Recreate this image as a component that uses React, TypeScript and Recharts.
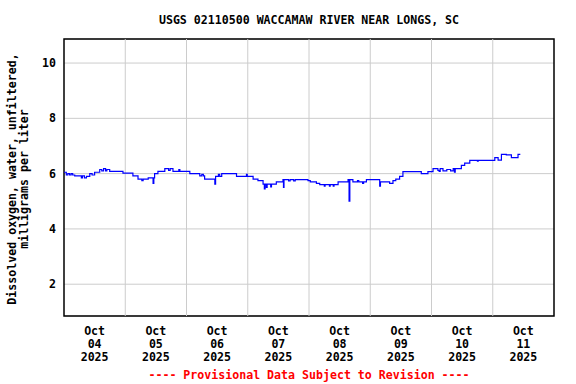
import React from 'react';
import {
  CartesianGrid,
  Line,
  LineChart,
  ReferenceArea,
  ReferenceLine,
  XAxis,
  YAxis,
} from 'recharts';

/* ─────────────── data ─────────────── */

// hours since Oct 04 2025 00:00
const hours = [
  0, 0.9, 1.5, 2.2, 2.8, 3.4, 4.2, 6.8, 7.2, 8.0, 8.8, 10.1, 11.0, 12.0, 14.0, 14.8,
  15.5, 16.3, 16.8, 17.9, 23.1, 27.0, 29.0, 30.5, 31.0, 33.0, 34.9, 35.2, 35.5, 36.8,
  39.5, 41.0, 41.6, 42.7, 45.0, 45.4, 49.3, 53.2, 54.0, 54.6, 55.1, 59.1, 59.4, 60.5,
  61.0, 61.8, 67.6, 71.5, 71.8, 74.1, 76.0, 78.0, 78.5, 78.8, 79.3, 79.6, 81.0, 81.3,
  83.2, 85.8, 86.0, 86.2, 88.0, 88.6, 90.0, 90.6, 95.6, 96.5, 98.9, 100.2, 102.0, 102.3,
  104.0, 104.3, 105.5, 105.8, 107.4, 111.3, 111.7, 112.0, 113.2, 115.0, 115.5, 117.0,
  117.4, 118.5, 123.7, 124.0, 127.6, 128.9, 130.0, 131.5, 132.8, 140.0, 142.6, 144.6,
  146.5, 147.0, 147.4, 148.5, 150.0, 151.5, 152.5, 153.0, 153.3, 155.7, 157.0, 159.0,
  162.0, 162.3, 168.8, 170.1, 171.4, 173.3, 175.3, 177.9, 178.8,
];

// dissolved oxygen, mg/L
const doValues = [
  6.05, 5.95, 6.0, 5.95, 6.0, 5.95, 5.92, 5.85, 5.92, 5.85, 5.9, 6.0, 5.95, 6.05, 6.15, 6.1,
  6.18, 6.1, 6.15, 6.08, 6.02, 5.92, 5.8, 5.75, 5.8, 5.85, 5.65, 5.85, 6.0, 6.08,
  6.18, 6.12, 6.18, 6.08, 6.15, 6.08, 6.0, 5.92, 5.97, 5.92, 5.8, 5.62, 5.9, 5.97,
  5.9, 6.0, 5.9, 5.97, 5.9, 5.8, 5.75, 5.62, 5.45, 5.62, 5.5, 5.62, 5.52, 5.62,
  5.7, 5.78, 5.5, 5.78, 5.74, 5.78, 5.74, 5.78, 5.75, 5.7, 5.65, 5.6, 5.55, 5.6,
  5.55, 5.6, 5.55, 5.6, 5.7, 5.78, 5.0, 5.78, 5.7, 5.75, 5.7, 5.65,
  5.7, 5.78, 5.55, 5.7, 5.65, 5.75, 5.8, 5.9, 6.07, 6.0, 6.07, 6.18,
  6.12, 6.08, 6.18, 6.1, 6.15, 6.1, 6.18, 6.05, 6.18, 6.3, 6.38, 6.48,
  6.45, 6.48, 6.58, 6.49, 6.7, 6.68, 6.58, 6.7, 6.7,
];

const dayBoundaries = [24, 48, 72, 96, 120, 144, 168];
const labelTicks = [12, 36, 60, 84, 108, 132, 156, 180];
const tickMonths = ['Oct', 'Oct', 'Oct', 'Oct', 'Oct', 'Oct', 'Oct', 'Oct'];
const tickDays = ['04', '05', '06', '07', '08', '09', '10', '11'];
const tickYears = ['2025', '2025', '2025', '2025', '2025', '2025', '2025', '2025'];
const yTicks = [2, 4, 6, 8, 10];

const X_DOMAIN: [number, number] = [0, 192];
const Y_DOMAIN: [number, number] = [0.85, 10.87];

const chartData = hours.map((h, i) => ({ h, value: doValues[i] }));

const FONT = '"DejaVu Sans Mono", monospace';
const FS = 11.6;

function DateTick({ x, y, payload }: any) {
  const i = labelTicks.indexOf(payload.value);
  return (
    <text
      x={x}
      y={y}
      textAnchor="middle"
      fontFamily={FONT}
      fontSize={FS}
      fontWeight="bold"
      fill="#000"
    >
      <tspan x={x} y={y + 11}>{tickMonths[i]}</tspan>
      <tspan x={x} y={y + 24}>{tickDays[i]}</tspan>
      <tspan x={x} y={y + 37}>{tickYears[i]}</tspan>
    </text>
  );
}

function ValueTick({ y, payload }: any) {
  return (
    <text
      x={56}
      y={y + 4}
      textAnchor="end"
      fontFamily={FONT}
      fontSize={FS}
      fontWeight="bold"
      fill="#000"
    >
      {payload.value}
    </text>
  );
}

export default function App() {
  return (
    <div style={{ position: 'absolute', left: 0, top: 0, width: 576, height: 384, background: '#fff' }}>
      <LineChart
        width={576}
        height={384}
        data={chartData}
        margin={{ top: 39, right: 22, bottom: 0, left: 0 }}
      >
        <CartesianGrid vertical={false} stroke="#cccccc" />
        {dayBoundaries.map((d) => (
          <ReferenceLine key={d} x={d} stroke="#cccccc" />
        ))}
        <XAxis
          type="number"
          dataKey="h"
          domain={X_DOMAIN}
          ticks={labelTicks}
          tick={<DateTick />}
          tickLine={false}
          axisLine={false}
          height={68}
          allowDataOverflow
        />
        <YAxis
          type="number"
          domain={Y_DOMAIN}
          ticks={yTicks}
          tick={<ValueTick />}
          tickLine={false}
          axisLine={false}
          width={64}
          allowDataOverflow
        />
        <Line
          type="stepAfter"
          dataKey="value"
          stroke="#0000ff"
          strokeWidth={1.2}
          dot={false}
          activeDot={false}
          isAnimationActive={false}
        />
        <ReferenceArea
          x1={X_DOMAIN[0]}
          x2={X_DOMAIN[1]}
          y1={Y_DOMAIN[0]}
          y2={Y_DOMAIN[1]}
          fill="none"
          stroke="#000"
          strokeWidth={1.5}
          ifOverflow="visible"
        />
      </LineChart>

      <svg
        width={576}
        height={384}
        style={{ position: 'absolute', left: 0, top: 0, pointerEvents: 'none' }}
      >
        <text
          x={309}
          y={24}
          textAnchor="middle"
          fontFamily={FONT}
          fontSize={FS}
          fontWeight="bold"
          fill="#000"
        >
          USGS 02110500 WACCAMAW RIVER NEAR LONGS, SC
        </text>
        <text
          transform="translate(16,179) rotate(-90)"
          textAnchor="middle"
          fontFamily={FONT}
          fontSize={FS}
          fontWeight="bold"
          fill="#000"
        >
          <tspan x={0} y={0}>Dissolved oxygen, water, unfiltered,</tspan>
          <tspan x={0} y={12}>milligrams per liter</tspan>
        </text>
        <text
          x={309}
          y={379}
          textAnchor="middle"
          fontFamily={FONT}
          fontSize={FS}
          fontWeight="bold"
          fill="#ff0000"
        >
          ---- Provisional Data Subject to Revision ----
        </text>
      </svg>
    </div>
  );
}
